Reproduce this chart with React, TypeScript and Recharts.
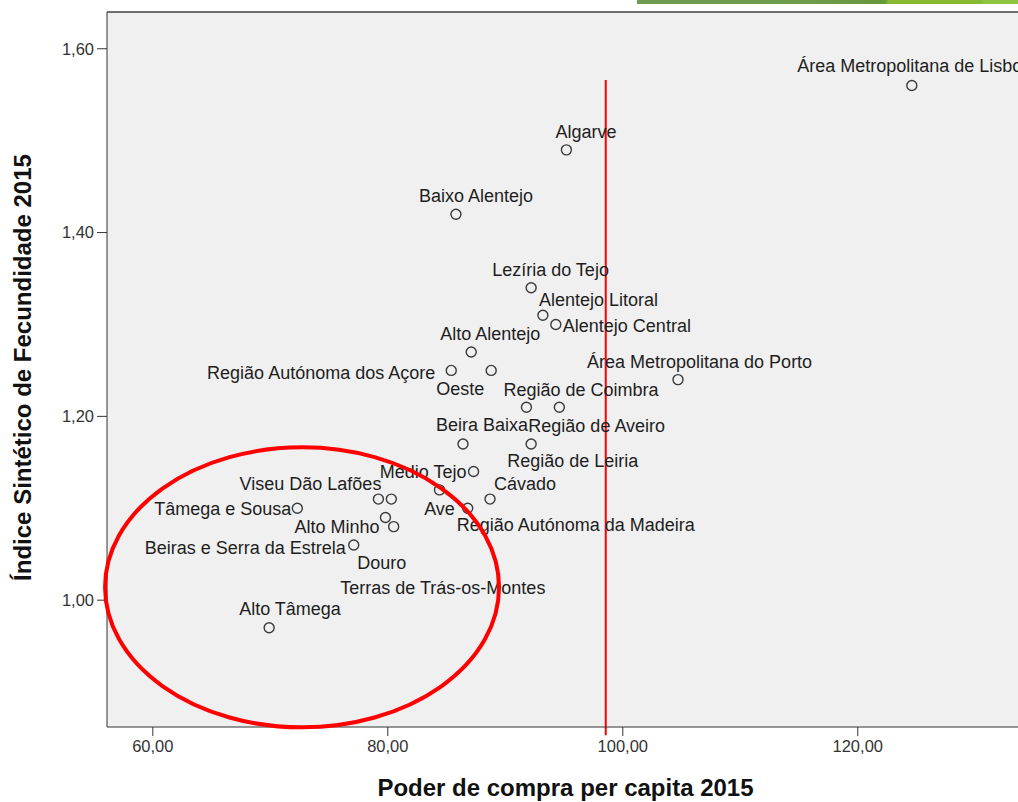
import { ScatterChart, Scatter, XAxis, YAxis, CartesianGrid, ReferenceLine, ReferenceDot } from 'recharts';

// NUTS III regions, purchasing power per capita vs. fertility index (2015)
const regions = [
  'Área Metropolitana de Lisboa', 'Algarve', 'Baixo Alentejo', 'Lezíria do Tejo', 'Alentejo Litoral',
  'Alentejo Central', 'Alto Alentejo', 'Região Autónoma dos Açore', 'Oeste', 'Área Metropolitana do Porto',
  'Região de Coimbra', 'Região de Aveiro', 'Beira Baixa', 'Região de Leiria', 'Médio Tejo',
  'Ave', 'Cávado', 'Região Autónoma da Madeira', 'Viseu Dão Lafões', 'Terras de Trás-os-Montes',
  'Tâmega e Sousa', 'Alto Minho', 'Douro', 'Beiras e Serra da Estrela', 'Alto Tâmega',
];
const poderCompra = [
  124.6, 95.2, 85.8, 92.2, 93.2,
  94.3, 87.1, 85.4, 88.8, 104.7,
  91.8, 94.6, 86.4, 92.2, 87.3,
  84.4, 88.7, 86.8, 79.2, 80.3,
  72.3, 79.8, 80.5, 77.1, 69.9,
];
const fecundidade = [
  1.56, 1.49, 1.42, 1.34, 1.31,
  1.30, 1.27, 1.25, 1.25, 1.24,
  1.21, 1.21, 1.17, 1.17, 1.14,
  1.12, 1.11, 1.10, 1.11, 1.11,
  1.10, 1.09, 1.08, 1.06, 0.97,
];
const xTicks = [60, 80, 100, 120];
const yTicks = [1.0, 1.2, 1.4, 1.6];
const cutoffX = 98.55;
const ellipseCenter = { x: 72.7, y: 1.014 };

// label placement relative to each point: [dx, dy, anchor]
const labelPos: Record<string, [number, number, string]> = {
  'Área Metropolitana de Lisboa': [3, -13.5, 'middle'],
  'Algarve': [-11, -11.5, 'start'],
  'Baixo Alentejo': [-37, -12.5, 'start'],
  'Lezíria do Tejo': [-39, -11.5, 'start'],
  'Alentejo Litoral': [-4, -9.5, 'start'],
  'Alentejo Central': [7, 7.5, 'start'],
  'Alto Alentejo': [-31, -12.5, 'start'],
  'Região Autónoma dos Açore': [-16, 8.5, 'end'],
  'Oeste': [-55, 24.5, 'start'],
  'Área Metropolitana do Porto': [-91, -11.5, 'start'],
  'Região de Coimbra': [-23, -11.5, 'start'],
  'Região de Aveiro': [-31, 24.5, 'start'],
  'Beira Baixa': [-27, -12.5, 'start'],
  'Região de Leiria': [-24, 23.5, 'start'],
  'Médio Tejo': [-7, 6.5, 'end'],
  'Ave': [0, 25.5, 'middle'],
  'Cávado': [4, -9.5, 'start'],
  'Região Autónoma da Madeira': [-11, 22.5, 'start'],
  'Viseu Dão Lafões': [3, -9.5, 'end'],
  'Terras de Trás-os-Montes': [-51, 94.5, 'start'],
  'Tâmega e Sousa': [-6, 6.5, 'end'],
  'Alto Minho': [-6, 15.5, 'end'],
  'Douro': [-12, 42.5, 'middle'],
  'Beiras e Serra da Estrela': [-8, 8.5, 'end'],
  'Alto Tâmega': [-30, -12.5, 'start'],
};

const data = regions.map((name, i) => ({ name, x: poderCompra[i], y: fecundidade[i] }));

const fmt = (v: number) => v.toFixed(2).replace('.', ',');
const FONT = '"Liberation Sans", Arial, sans-serif';

const PointShape = (props: any) => {
  const { cx, cy, payload } = props;
  const [dx, dy, anchor] = labelPos[payload.name] || [0, -12, 'middle'];
  return (
    <g>
      <circle cx={cx} cy={cy} r={5} fill="none" stroke="#3a3a3a" strokeWidth={1.4} />
      <text x={cx + dx} y={cy + dy} textAnchor={anchor} fontSize={18} fill="#1e1e1e" fontFamily={FONT}>
        {payload.name}
      </text>
    </g>
  );
};

const EllipseShape = (props: any) => (
  <ellipse cx={props.cx} cy={props.cy} rx={197} ry={140} fill="none" stroke="#ff0000" strokeWidth={4} />
);

const XTitle = (props: any) => {
  const { x, width } = props.viewBox;
  return (
    <text x={x + width / 2 - 5} y={796} textAnchor="middle" fontSize={24} fontWeight="bold" fill="#111" fontFamily={FONT}>
      Poder de compra per capita 2015
    </text>
  );
};

const YTitle = (props: any) => {
  const { y, height } = props.viewBox;
  const cy = y + height / 2 - 2;
  return (
    <text x={31} y={cy} transform={`rotate(-90, 31, ${cy})`} textAnchor="middle" fontSize={24} fontWeight="bold" fill="#111" fontFamily={FONT}>
      Índice Sintético de Fecundidade 2015
    </text>
  );
};

export default function App() {
  return (
    <div style={{ position: 'absolute', left: 0, top: 0, width: 1018, height: 802, overflow: 'hidden', background: '#fff' }}>
      <div
        style={{
          position: 'absolute', left: 637, top: 0, width: 381, height: 4,
          background: 'linear-gradient(to right, #6f9b52 0%, #6e9c4c 45%, #66973b 65%, #86b832 66%, #86b832 90%, #8fc43e 91%)',
        }}
      />
      <ScatterChart width={1040} height={802} margin={{ top: 12, right: 6, left: 0, bottom: 0 }}>
        <CartesianGrid horizontal={false} vertical={false} fill="#f0f0f0" />
        <XAxis
          type="number"
          dataKey="x"
          domain={[56.1, 135]}
          allowDataOverflow
          ticks={xTicks}
          tickFormatter={fmt}
          height={75}
          tickSize={9}
          tickMargin={4}
          stroke="#333"
          tick={{ fontSize: 16.5, fill: '#333', fontFamily: FONT }}
          label={<XTitle />}
        />
        <YAxis
          type="number"
          dataKey="y"
          domain={[0.862, 1.64]}
          allowDataOverflow
          ticks={yTicks}
          tickFormatter={fmt}
          width={107}
          tickSize={10}
          tickMargin={3}
          stroke="#333"
          tick={{ fontSize: 16.5, fill: '#333', fontFamily: FONT }}
          label={<YTitle />}
        />
        <ReferenceLine y={1.64} stroke="#6e6e6e" strokeWidth={2} />
        <Scatter data={data} shape={<PointShape />} isAnimationActive={false} />
        <ReferenceLine
          segment={[{ x: cutoffX, y: 1.566 }, { x: cutoffX, y: 0.853 }]}
          stroke="#ff0000"
          strokeWidth={2}
          ifOverflow="visible"
        />
        <ReferenceDot x={ellipseCenter.x} y={ellipseCenter.y} ifOverflow="visible" shape={<EllipseShape />} />
      </ScatterChart>
    </div>
  );
}
